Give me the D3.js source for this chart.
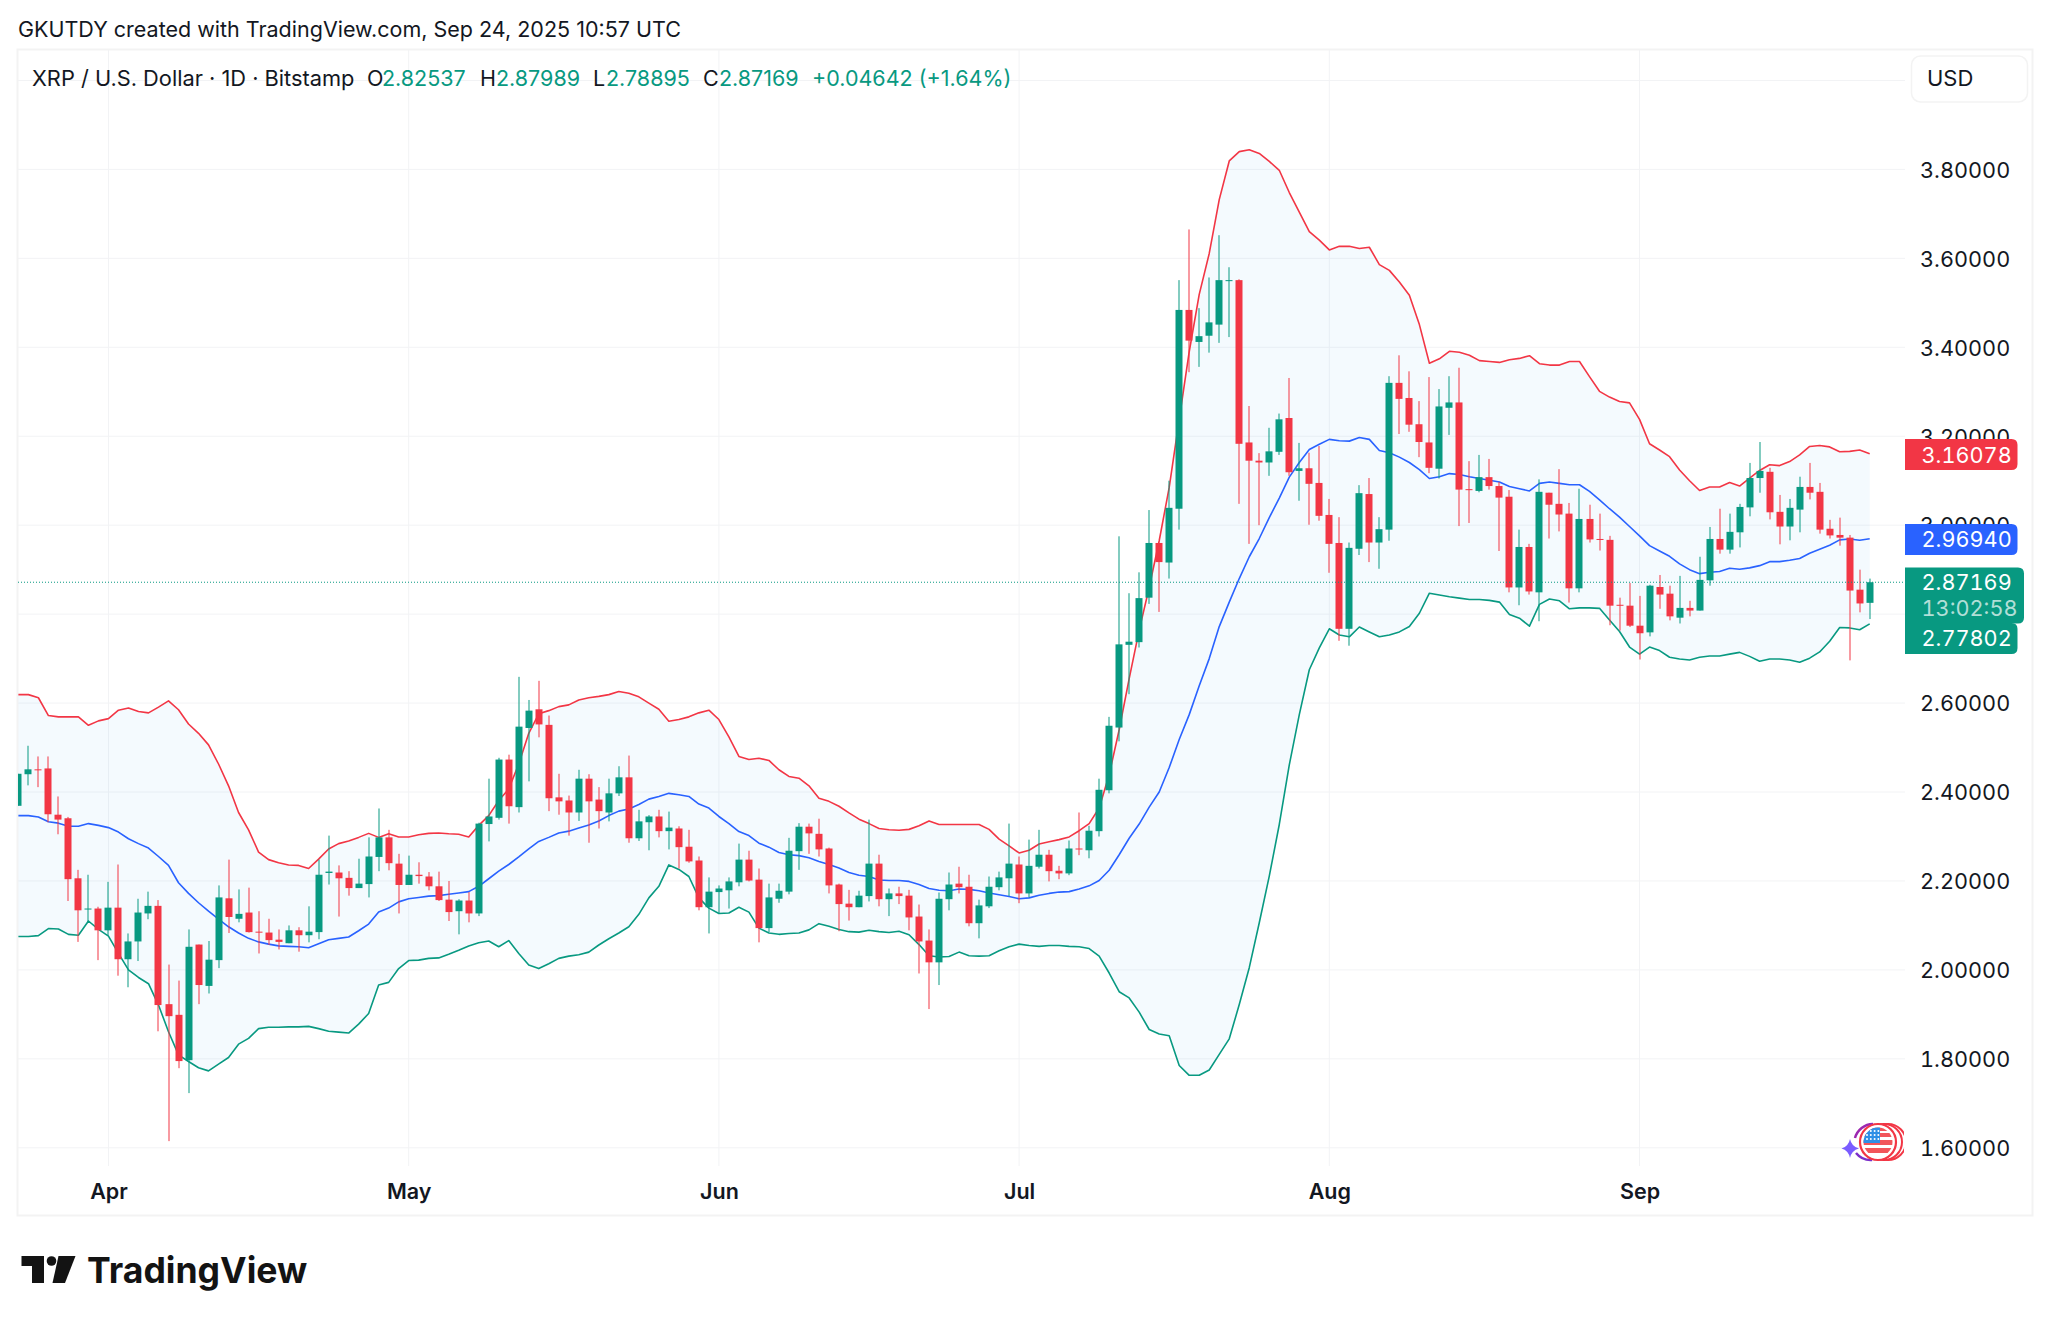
<!DOCTYPE html>
<html><head><meta charset="utf-8">
<script src="https://cdnjs.cloudflare.com/ajax/libs/d3/7.8.5/d3.min.js"></script>
<style>
html,body{margin:0;padding:0;background:#fff;width:2051px;height:1324px;overflow:hidden}
svg{display:block}
text{font-family:Inter,"Noto Sans",sans-serif}
.tn{font-variant-numeric:tabular-nums}
</style></head><body><div id="c"></div>
<script>
const openP=[2.369,2.440,2.451,2.453,2.349,2.341,2.206,2.137,2.138,2.089,
2.140,2.024,2.064,2.127,2.144,1.923,1.899,1.797,2.057,1.964,
2.022,2.161,2.115,2.129,2.086,2.084,2.068,2.060,2.089,2.078,
2.085,2.218,2.219,2.207,2.184,2.193,2.254,2.298,2.239,2.191,
2.214,2.210,2.188,2.158,2.132,2.156,2.127,2.328,2.342,2.473,
2.366,2.544,2.586,2.551,2.388,2.381,2.354,2.430,2.383,2.354,
2.397,2.433,2.296,2.332,2.345,2.312,2.318,2.277,2.246,2.141,
2.175,2.179,2.197,2.248,2.203,2.094,2.160,2.176,2.267,2.322,
2.306,2.273,2.192,2.149,2.141,2.166,2.239,2.159,2.172,2.167,
2.120,2.066,2.017,2.159,2.194,2.187,2.105,2.143,2.186,2.206,
2.237,2.172,2.232,2.259,2.223,2.217,2.273,2.269,2.312,2.404,
2.545,2.731,2.737,2.837,2.960,2.916,3.037,3.484,3.412,3.426,
3.451,3.549,3.551,3.186,3.145,3.141,3.165,3.241,3.122,3.128,
3.095,3.023,2.960,2.767,2.947,3.070,2.961,2.990,3.320,3.286,
3.227,3.186,3.127,3.264,3.276,3.081,3.077,3.108,3.088,3.064,
2.860,2.951,2.849,3.073,3.048,3.026,2.858,3.014,2.969,2.967,
2.821,2.819,2.774,2.759,2.861,2.846,2.792,2.814,2.808,2.876,
2.969,2.945,2.984,3.040,3.106,3.120,3.030,2.997,3.035,3.086,
3.075,2.992,2.978,2.972,2.855,2.82537];
const highP=[2.441,2.504,2.480,2.480,2.390,2.344,2.225,2.214,2.142,2.198,
2.237,2.082,2.160,2.176,2.157,2.012,1.976,2.091,2.057,2.065,
2.190,2.248,2.181,2.185,2.132,2.115,2.091,2.100,2.096,2.143,
2.248,2.302,2.235,2.222,2.250,2.298,2.363,2.315,2.261,2.257,
2.242,2.220,2.221,2.200,2.159,2.175,2.331,2.430,2.477,2.484,
2.659,2.607,2.650,2.572,2.441,2.392,2.450,2.440,2.411,2.430,
2.458,2.482,2.360,2.348,2.360,2.356,2.323,2.315,2.255,2.208,
2.190,2.208,2.284,2.268,2.228,2.194,2.194,2.297,2.330,2.329,
2.340,2.275,2.194,2.180,2.178,2.338,2.259,2.183,2.187,2.180,
2.147,2.091,2.174,2.219,2.232,2.214,2.158,2.210,2.221,2.329,
2.255,2.293,2.315,2.270,2.234,2.291,2.354,2.324,2.430,2.569,
2.975,2.847,2.894,3.034,2.960,3.100,3.551,3.665,3.488,3.557,
3.652,3.580,3.553,3.268,3.162,3.219,3.251,3.331,3.185,3.163,
3.178,3.059,3.018,2.961,3.090,3.106,3.018,3.335,3.382,3.346,
3.279,3.333,3.306,3.335,3.354,3.144,3.158,3.149,3.097,3.079,
2.990,2.958,3.103,3.073,3.126,3.050,3.082,3.046,3.026,2.976,
2.837,2.870,2.841,2.866,2.888,2.864,2.886,2.830,2.929,2.996,
3.037,3.026,3.048,3.140,3.187,3.129,3.068,3.059,3.109,3.140,
3.095,3.012,3.017,2.978,2.900,2.87989];
const lowP=[2.369,2.415,2.411,2.332,2.305,2.155,2.063,2.106,2.022,2.077,
1.987,1.961,2.020,2.114,1.862,1.615,1.779,1.723,1.923,1.947,
2.004,2.083,2.107,2.084,2.037,2.056,2.046,2.060,2.041,2.062,
2.069,2.192,2.120,2.167,2.184,2.163,2.222,2.224,2.127,2.191,
2.194,2.179,2.155,2.110,2.080,2.107,2.121,2.289,2.338,2.329,
2.354,2.424,2.523,2.357,2.349,2.302,2.335,2.286,2.318,2.334,
2.391,2.286,2.290,2.269,2.298,2.271,2.228,2.241,2.134,2.082,
2.128,2.138,2.188,2.199,2.062,2.085,2.151,2.170,2.225,2.261,
2.255,2.172,2.087,2.111,2.141,2.154,2.143,2.121,2.148,2.089,
1.992,1.912,1.966,2.134,2.172,2.098,2.071,2.139,2.179,2.166,
2.150,2.163,2.228,2.199,2.204,2.213,2.258,2.251,2.300,2.397,
2.514,2.620,2.725,2.823,2.805,2.880,2.990,3.344,3.356,3.388,
3.410,3.423,3.048,2.958,3.000,3.111,3.158,3.111,3.055,3.001,
3.010,2.893,2.740,2.729,2.933,2.917,2.902,2.965,3.205,3.210,
3.153,3.117,3.105,3.203,2.998,3.005,3.074,3.080,2.942,2.849,
2.820,2.844,2.784,2.970,2.986,2.826,2.849,2.961,2.943,2.775,
2.763,2.771,2.698,2.750,2.812,2.786,2.779,2.795,2.808,2.864,
2.936,2.936,2.950,3.020,3.073,3.013,2.957,2.966,2.984,3.058,
2.981,2.970,2.954,2.696,2.804,2.78895];
const closeP=[2.441,2.451,2.449,2.350,2.338,2.204,2.134,2.138,2.089,2.140,
2.024,2.064,2.129,2.144,1.921,1.896,1.795,2.052,1.966,2.023,
2.163,2.119,2.126,2.085,2.084,2.067,2.063,2.089,2.078,2.086,
2.214,2.221,2.206,2.184,2.194,2.255,2.298,2.240,2.191,2.214,
2.211,2.188,2.157,2.130,2.156,2.127,2.329,2.345,2.473,2.368,
2.547,2.583,2.552,2.386,2.379,2.354,2.430,2.379,2.357,2.397,
2.433,2.296,2.334,2.345,2.312,2.320,2.276,2.244,2.141,2.176,
2.183,2.199,2.248,2.201,2.094,2.163,2.178,2.268,2.322,2.307,
2.271,2.190,2.148,2.141,2.167,2.239,2.159,2.172,2.166,2.118,
2.064,2.017,2.160,2.192,2.186,2.105,2.145,2.187,2.208,2.239,
2.172,2.234,2.259,2.222,2.217,2.273,2.271,2.313,2.405,2.549,
2.732,2.738,2.836,2.960,2.917,3.039,3.484,3.415,3.425,3.456,
3.551,3.551,3.183,3.145,3.141,3.166,3.238,3.119,3.128,3.093,
3.021,2.958,2.767,2.949,3.072,2.961,2.991,3.320,3.284,3.226,
3.187,3.129,3.267,3.276,3.080,3.080,3.108,3.088,3.062,2.860,
2.951,2.851,3.075,3.046,3.024,2.858,3.014,2.968,2.968,2.819,
2.819,2.774,2.757,2.864,2.844,2.795,2.814,2.808,2.877,2.969,
2.945,2.985,3.041,3.106,3.122,3.029,2.997,3.039,3.086,3.073,
2.990,2.977,2.972,2.853,2.824,2.87169];
const upperBand=[2.619,2.619,2.612,2.572,2.569,2.569,2.569,2.550,2.560,2.565,
2.584,2.589,2.581,2.578,2.591,2.605,2.585,2.553,2.532,2.506,
2.463,2.414,2.354,2.315,2.265,2.248,2.241,2.236,2.235,2.228,
2.249,2.272,2.284,2.290,2.298,2.307,2.298,2.306,2.299,2.299,
2.304,2.307,2.308,2.306,2.305,2.299,2.325,2.347,2.381,2.407,
2.463,2.532,2.576,2.583,2.592,2.596,2.607,2.612,2.615,2.619,
2.626,2.622,2.614,2.600,2.586,2.559,2.563,2.569,2.578,2.584,
2.563,2.524,2.480,2.473,2.476,2.471,2.450,2.435,2.431,2.414,
2.386,2.379,2.368,2.353,2.339,2.329,2.318,2.315,2.314,2.316,
2.324,2.335,2.327,2.327,2.327,2.327,2.327,2.316,2.294,2.279,
2.263,2.269,2.283,2.288,2.293,2.299,2.313,2.329,2.364,2.439,
2.540,2.655,2.764,2.860,2.965,3.085,3.238,3.390,3.519,3.611,
3.732,3.819,3.840,3.844,3.836,3.818,3.798,3.748,3.704,3.660,
3.641,3.619,3.627,3.627,3.622,3.625,3.586,3.573,3.547,3.517,
3.451,3.364,3.374,3.391,3.389,3.382,3.370,3.368,3.366,3.372,
3.375,3.381,3.363,3.360,3.360,3.368,3.368,3.334,3.301,3.288,
3.278,3.275,3.238,3.183,3.169,3.154,3.124,3.100,3.078,3.086,
3.086,3.096,3.088,3.106,3.123,3.136,3.134,3.143,3.158,3.177,
3.179,3.176,3.165,3.166,3.169,3.16078];
const middleBand=[2.347,2.347,2.344,2.333,2.330,2.323,2.323,2.329,2.325,2.320,
2.310,2.295,2.284,2.274,2.255,2.235,2.196,2.172,2.151,2.132,
2.114,2.097,2.083,2.071,2.063,2.058,2.054,2.053,2.052,2.050,
2.059,2.068,2.071,2.074,2.088,2.103,2.130,2.139,2.153,2.160,
2.163,2.166,2.167,2.170,2.173,2.176,2.188,2.205,2.222,2.237,
2.254,2.272,2.289,2.298,2.308,2.312,2.319,2.326,2.335,2.347,
2.357,2.362,2.372,2.384,2.390,2.397,2.394,2.390,2.373,2.364,
2.345,2.329,2.311,2.302,2.285,2.276,2.264,2.259,2.257,2.252,
2.244,2.237,2.229,2.219,2.213,2.210,2.202,2.201,2.201,2.199,
2.192,2.183,2.179,2.178,2.182,2.181,2.178,2.173,2.169,2.165,
2.160,2.162,2.168,2.172,2.175,2.176,2.182,2.189,2.201,2.224,
2.259,2.296,2.328,2.366,2.400,2.455,2.518,2.574,2.639,2.700,
2.772,2.827,2.880,2.929,2.970,3.017,3.061,3.108,3.141,3.170,
3.182,3.193,3.190,3.189,3.197,3.193,3.168,3.163,3.153,3.141,
3.125,3.105,3.109,3.116,3.114,3.109,3.105,3.101,3.097,3.087,
3.082,3.077,3.094,3.097,3.094,3.091,3.091,3.076,3.057,3.037,
3.018,2.997,2.976,2.954,2.942,2.930,2.913,2.900,2.891,2.894,
2.896,2.903,2.901,2.904,2.909,2.918,2.918,2.921,2.925,2.937,
2.946,2.955,2.967,2.969,2.966,2.9694];
const lowerBand=[2.075,2.075,2.077,2.093,2.092,2.080,2.078,2.110,2.091,2.076,
2.037,2.000,1.983,1.969,1.921,1.861,1.809,1.794,1.780,1.773,
1.788,1.803,1.833,1.846,1.868,1.871,1.871,1.872,1.872,1.873,
1.868,1.862,1.860,1.858,1.878,1.902,1.966,1.972,2.003,2.021,
2.022,2.026,2.027,2.035,2.044,2.054,2.061,2.065,2.052,2.066,
2.037,2.011,2.003,2.014,2.026,2.031,2.034,2.040,2.056,2.070,
2.083,2.097,2.125,2.162,2.188,2.236,2.226,2.210,2.162,2.139,
2.127,2.128,2.141,2.130,2.094,2.083,2.080,2.082,2.083,2.090,
2.104,2.098,2.091,2.086,2.085,2.089,2.086,2.084,2.087,2.079,
2.057,2.032,2.029,2.030,2.040,2.032,2.031,2.032,2.043,2.052,
2.058,2.055,2.053,2.055,2.055,2.053,2.052,2.048,2.031,1.993,
1.951,1.937,1.905,1.866,1.856,1.852,1.785,1.763,1.763,1.775,
1.810,1.845,1.922,2.005,2.106,2.211,2.327,2.461,2.574,2.675,
2.724,2.767,2.753,2.749,2.771,2.760,2.749,2.753,2.760,2.772,
2.802,2.847,2.843,2.839,2.836,2.833,2.833,2.831,2.827,2.799,
2.791,2.773,2.822,2.834,2.830,2.812,2.814,2.814,2.813,2.787,
2.761,2.726,2.710,2.726,2.718,2.703,2.699,2.697,2.703,2.706,
2.706,2.710,2.714,2.705,2.694,2.699,2.699,2.697,2.692,2.701,
2.715,2.739,2.770,2.769,2.765,2.77802];
const priceTicks=[1.6,1.8,2.0,2.2,2.4,2.6,2.8,3.0,3.2,3.4,3.6,3.8];
const gridOnly=[4.0];
const monthTicks=["2025-04-01","2025-05-01","2025-06-01","2025-07-01","2025-08-01","2025-09-01"];
const titleText="GKUTDY created with TradingView.com, Sep 24, 2025 10:57 UTC";
const symbolText="XRP / U.S. Dollar · 1D · Bitstamp";
const ohlcLabels=["O","H","L","C"];
const ohlcValues=["2.82537","2.87989","2.78895","2.87169"];
const changeText="+0.04642 (+1.64%)";
const countdown="13:02:58";

const W=2051,H=1324,green="#089981",red="#F23645",blue="#2962FF",gridC="#F2F3F5",frameC="#F3F3F3",ink="#131722";
const dates=d3.utcDay.range(new Date(Date.UTC(2025,2,23)),new Date(Date.UTC(2025,8,25)));
const paneL=18,paneR=1905,paneT=50,paneB=1166;
const x=d3.scaleUtc().domain([dates[0],dates[dates.length-1]]).range([18.4,1869.7]);
const y=d3.scaleLinear().domain([1.6,3.8]).range([1147.8,169.4]);
const svg=d3.select("#c").append("svg").attr("width",W).attr("height",H).attr("viewBox",`0 0 ${W} ${H}`);
svg.append("defs").append("clipPath").attr("id","pane").append("rect").attr("x",paneL).attr("y",paneT).attr("width",paneR-paneL).attr("height",paneB-paneT);
svg.select("defs").append("clipPath").attr("id","badgeClip").append("rect").attr("x",1840).attr("y",1115).attr("width",64).attr("height",50);

// title
svg.append("text").attr("x",18).attr("y",29).attr("dy","0.36em").attr("font-size",21.5).attr("fill",ink).text(titleText);

// frame
svg.append("rect").attr("x",17.5).attr("y",49.5).attr("width",2015).attr("height",1166).attr("fill","none").attr("stroke",frameC).attr("stroke-width",2);

// grid
const gridG=svg.append("g").attr("clip-path","url(#pane)");
const months=monthTicks.map(d=>new Date(d+"T00:00:00Z"));
gridG.selectAll(".v").data(months).join("line").attr("x1",d=>x(d)).attr("x2",d=>x(d)).attr("y1",paneT).attr("y2",paneB).attr("stroke",gridC).attr("stroke-width",1);
gridG.selectAll(".h").data(priceTicks.concat(gridOnly)).join("line").attr("x1",paneL).attr("x2",paneR).attr("y1",d=>y(d)).attr("y2",d=>y(d)).attr("stroke",gridC).attr("stroke-width",1);

// bands
const plot=svg.append("g").attr("clip-path","url(#pane)");
const area=d3.area().x((d,i)=>x(dates[i])).y0((d,i)=>y(lowerBand[i])).y1((d,i)=>y(upperBand[i]));
plot.append("path").datum(dates).attr("d",area).attr("fill","#2196F3").attr("fill-opacity",0.05);
const lineOf=arr=>d3.line().x((d,i)=>x(dates[i])).y((d,i)=>y(d))(arr);
[[upperBand,red],[lowerBand,green],[middleBand,blue]].forEach(([a,c])=>{
  plot.append("path").attr("d",lineOf(a)).attr("fill","none").attr("stroke",c).attr("stroke-width",1.6).attr("stroke-linejoin","round");
});

// candles
const color=i=>closeP[i]>=openP[i]?green:red;
const bw=7;
plot.selectAll(".w").data(dates).join("rect").attr("x",d=>Math.round(x(d))-0.5).attr("width",1)
  .attr("y",(d,i)=>y(highP[i])).attr("height",(d,i)=>Math.max(1,y(lowP[i])-y(highP[i]))).attr("fill",(d,i)=>color(i));
plot.selectAll(".b").data(dates).join("rect").attr("x",d=>Math.round(x(d))-bw/2).attr("width",bw)
  .attr("y",(d,i)=>y(Math.max(openP[i],closeP[i]))).attr("height",(d,i)=>Math.max(1,Math.abs(y(openP[i])-y(closeP[i])))).attr("fill",(d,i)=>color(i));

// last-price dotted line
plot.append("line").attr("x1",paneL).attr("x2",paneR).attr("y1",y(closeP[closeP.length-1])).attr("y2",y(closeP[closeP.length-1]))
  .attr("stroke",green).attr("stroke-width",1).attr("stroke-dasharray","1 2");

// axes
const yAxis=d3.axisRight(y).tickValues(priceTicks).tickFormat(d3.format(".5f")).tickSize(0).tickPadding(0);
const yG=svg.append("g").attr("transform","translate(1920,0)").call(yAxis);
yG.select(".domain").remove();
yG.selectAll("text").attr("class","tn").attr("font-size",21.7).attr("fill",ink).attr("font-family","Inter").attr("dy","0.36em");
const xAxis=d3.axisBottom(x).tickValues(months).tickFormat(d3.utcFormat("%b")).tickSize(0).tickPadding(0);
const xG=svg.append("g").attr("transform","translate(0,1191)").call(xAxis);
xG.select(".domain").remove();
xG.selectAll("text").attr("font-size",21.5).attr("font-weight",600).attr("fill",ink).attr("font-family","Inter").attr("dy","0.36em");

// legend
const lg=svg.append("g").attr("font-size",21.5);
const ly=78;
lg.append("text").attr("x",32).attr("y",ly).attr("dy","0.36em").attr("fill",ink).attr("font-size",21.8).text(symbolText);
const lblX=[367,480,593,703], valX=[382,496,606,719];
ohlcLabels.forEach((l,i)=>{
  lg.append("text").attr("x",lblX[i]).attr("y",ly).attr("dy","0.36em").attr("fill",ink).text(l);
  lg.append("text").attr("x",valX[i]).attr("y",ly).attr("dy","0.36em").attr("fill",green).text(ohlcValues[i]);
});
lg.append("text").attr("x",812).attr("y",ly).attr("dy","0.36em").attr("fill",green).text(changeText);

// USD button
svg.append("rect").attr("x",1911.5).attr("y",56).attr("width",116).attr("height",46).attr("rx",9).attr("fill","#fff").attr("stroke",frameC).attr("stroke-width",1.5);
svg.append("text").attr("x",1927).attr("y",78.5).attr("dy","0.36em").attr("font-size",22).attr("fill",ink).text("USD");

// price tags
function tag(yTop,h,right,fill){
  const l=1905,r=6;
  svg.append("path").attr("d",`M${l},${yTop}H${right-r}Q${right},${yTop} ${right},${yTop+r}V${yTop+h-r}Q${right},${yTop+h} ${right-r},${yTop+h}H${l}Z`).attr("fill",fill);
}
function tagText(t,cy,op){svg.append("text").attr("class","tn").attr("x",1921.5).attr("y",cy).attr("dy","0.36em").attr("font-size",21.7).attr("fill","#fff").attr("fill-opacity",op||1).text(t);}
tag(439,31,2017.5,red); tagText(d3.format(".5f")(upperBand[185]),455);
tag(524,31,2017.5,blue); tagText(d3.format(".5f")(middleBand[185]),539.5);
tag(623,31,2017.5,green);
tag(567.5,56,2024,green);
tagText(d3.format(".5f")(closeP[185]),582.5);
tagText(countdown,608,0.7);
tagText(d3.format(".5f")(lowerBand[185]),638.5);

// badge
const bd=svg.append("g").attr("clip-path","url(#badgeClip)");
bd.append("path").attr("d","M1873,1124A19,19 0 0 0 1855,1138").attr("fill","none").attr("stroke","#9C27B0").attr("stroke-width",2.5);
bd.append("path").attr("d","M1856,1153A19,19 0 0 0 1872,1160").attr("fill","none").attr("stroke","#7B2FC9").attr("stroke-width",2.5);
bd.append("circle").attr("cx",1884).attr("cy",1142).attr("r",18).attr("fill","none").attr("stroke",red).attr("stroke-width",2);
bd.append("circle").attr("cx",1888).attr("cy",1142).attr("r",18).attr("fill","none").attr("stroke",red).attr("stroke-width",2);
bd.append("circle").attr("cx",1878).attr("cy",1142).attr("r",18).attr("fill","#fff").attr("stroke",red).attr("stroke-width",2.2);
svg.select("defs").append("clipPath").attr("id","flagClip").append("circle").attr("cx",1878).attr("cy",1142).attr("r",14.5);
const fl=bd.append("g").attr("clip-path","url(#flagClip)");
[1133,1140,1147].forEach((yy,i)=>fl.append("rect").attr("x",1863).attr("y",yy+(i==2?1:0)).attr("width",30).attr("height",i==0?4:5).attr("fill","#F2555A"));
fl.append("rect").attr("x",1863).attr("y",1127).attr("width",30).attr("height",4).attr("fill","#F2555A");
fl.append("rect").attr("x",1863).attr("y",1127).attr("width",17).attr("height",16).attr("fill","#2E8FE6");
for(let a=0;a<3;a++)for(let b=0;b<4;b++)fl.append("circle").attr("cx",1867+b*3.8).attr("cy",1131+a*4).attr("r",1).attr("fill","#fff");
svg.append("path").attr("d","M1850,1139Q1851.5,1146.5 1859,1148.5Q1851.5,1150.5 1850,1158Q1848.5,1150.5 1841.5,1148.5Q1848.5,1146.5 1850,1139Z").attr("fill","#7A5CFF");

// TradingView logo
const lgG=svg.append("g").attr("fill","#131313");
lgG.append("path").attr("d","M21.5,1256H44V1283H32V1266H21.5Z");
lgG.append("circle").attr("cx",51.5).attr("cy",1261).attr("r",4.8);
lgG.append("path").attr("d","M58.5,1256H75.5L65,1283H52.5Z");
svg.append("text").attr("x",87).attr("y",1283).attr("font-size",35.6).attr("font-weight",700).attr("font-family","Lato,Inter").attr("fill","#131313").text("TradingView");
</script></body></html>
